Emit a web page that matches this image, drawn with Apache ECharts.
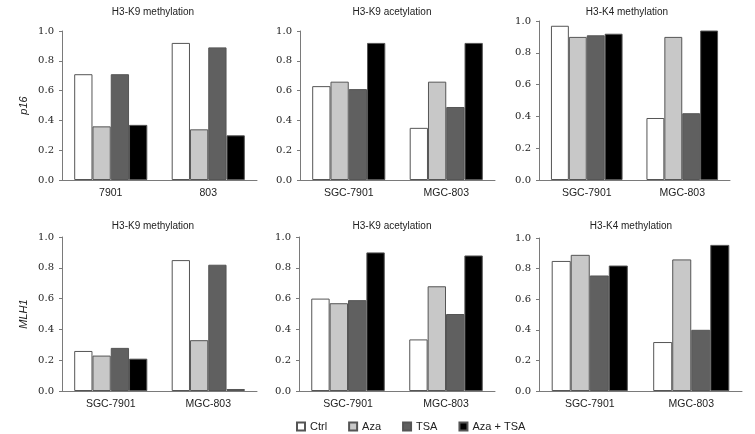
<!DOCTYPE html>
<html><head><meta charset="utf-8">
<script src="https://cdn.jsdelivr.net/npm/echarts@6/dist/echarts.min.js"></script>
<style>html,body{margin:0;padding:0;background:#fff}#c{width:755px;height:434px}</style>
</head><body><div id="c"></div>
<script>
const treatments = ['Ctrl', 'Aza', 'TSA', 'Aza + TSA'];
const catsShort = ['7901', '803'];
const catsLong = ['SGC-7901', 'MGC-803'];
const panelTitles = ['H3-K9 methylation', 'H3-K9 acetylation', 'H3-K4 methylation',
                     'H3-K9 methylation', 'H3-K9 acetylation', 'H3-K4 methylation'];
const yTicks = ['0.0', '0.2', '0.4', '0.6', '0.8', '1.0'];
// each panel: [Ctrl, Aza, TSA, Aza+TSA], each with [first cell line, second cell line]
const p16_K9me = [[0.71, 0.92], [0.36, 0.34], [0.71, 0.89], [0.37, 0.30]];
const p16_K9ac = [[0.63, 0.35], [0.66, 0.66], [0.61, 0.49], [0.92, 0.92]];
const p16_K4me = [[0.97, 0.39], [0.90, 0.90], [0.91, 0.42], [0.92, 0.94]];
const mlh1_K9me = [[0.26, 0.85], [0.23, 0.33], [0.28, 0.82], [0.21, 0.013]];
const mlh1_K9ac = [[0.60, 0.335], [0.57, 0.68], [0.59, 0.50], [0.90, 0.88]];
const mlh1_K4me = [[0.85, 0.32], [0.89, 0.86], [0.755, 0.40], [0.82, 0.955]];

const panels = [p16_K9me, p16_K9ac, p16_K4me, mlh1_K9me, mlh1_K9ac, mlh1_K4me];
const panelCats = [catsShort, catsLong, catsLong, catsLong, catsLong, catsLong];
const fills = ['#ffffff', '#c8c8c8', '#606060', '#000000'];

const grids = [
  {left: 62, top: 31, width: 195, height: 149},
  {left: 300, top: 31, width: 195, height: 149},
  {left: 539, top: 21, width: 191, height: 159},
  {left: 62, top: 237, width: 195, height: 154},
  {left: 299, top: 237, width: 196, height: 154},
  {left: 539, top: 238, width: 203, height: 153}
];
const titlePos = [[153, 12], [392, 12], [627, 12], [153, 226], [392, 226], [631, 226]];
const yNames = ['p16', '', '', 'MLH1', '', ''];

const axisColor = '#7a7a7a';
const sans = '"Liberation Sans", Arial, sans-serif';
const serif = '"DejaVu Serif", serif';

const xAxis = [], yAxis = [], series = [], graphic = [];
grids.forEach((g, i) => {
  xAxis.push({
    type: 'category', gridIndex: i, data: panelCats[i], boundaryGap: true,
    axisLine: {lineStyle: {color: axisColor, width: 1}},
    axisTick: {inside: true, length: 5, lineStyle: {color: axisColor}},
    axisLabel: {color: '#222', fontFamily: sans, fontSize: 10.5, margin: 8}
  });
  yAxis.push({
    type: 'value', gridIndex: i, min: 0, max: 1, interval: 0.2,
    name: yNames[i], nameLocation: 'middle', nameGap: 33, nameRotate: 90,
    nameTextStyle: {fontStyle: 'italic', fontFamily: sans, fontSize: 11, color: '#222'},
    axisLine: {show: true, lineStyle: {color: axisColor, width: 1}},
    axisTick: {show: true, length: 3, lineStyle: {color: axisColor}},
    splitLine: {show: false},
    axisLabel: {color: '#222', fontFamily: serif, fontSize: 10, margin: 8,
      formatter: v => yTicks[Math.round(v * 5)]}
  });
  panels[i].forEach((vals, k) => {
    series.push({
      type: 'bar', name: treatments[k], xAxisIndex: i, yAxisIndex: i,
      data: vals, barGap: '0%', barCategoryGap: '25%',
      itemStyle: {color: fills[k], borderColor: '#555', borderWidth: 1},
      emphasis: {disabled: true}, animation: false
    });
  });
  graphic.push({
    type: 'text', x: titlePos[i][0], y: titlePos[i][1],
    style: {text: panelTitles[i], fill: '#222', font: '10px ' + sans,
      textAlign: 'center', textVerticalAlign: 'middle'}
  });
});

const chart = echarts.init(document.getElementById('c'), null, {renderer: 'canvas'});
chart.setOption({
  animation: false,
  backgroundColor: '#fff',
  grid: grids,
  xAxis: xAxis,
  yAxis: yAxis,
  series: series,
  graphic: graphic,
  legend: {
    data: treatments, left: 291, top: 416, icon: 'rect',
    itemWidth: 8, itemHeight: 8, itemGap: 21,
    textStyle: {fontFamily: sans, fontSize: 11, color: '#222'},
    selectedMode: false
  }
});
</script></body></html>
